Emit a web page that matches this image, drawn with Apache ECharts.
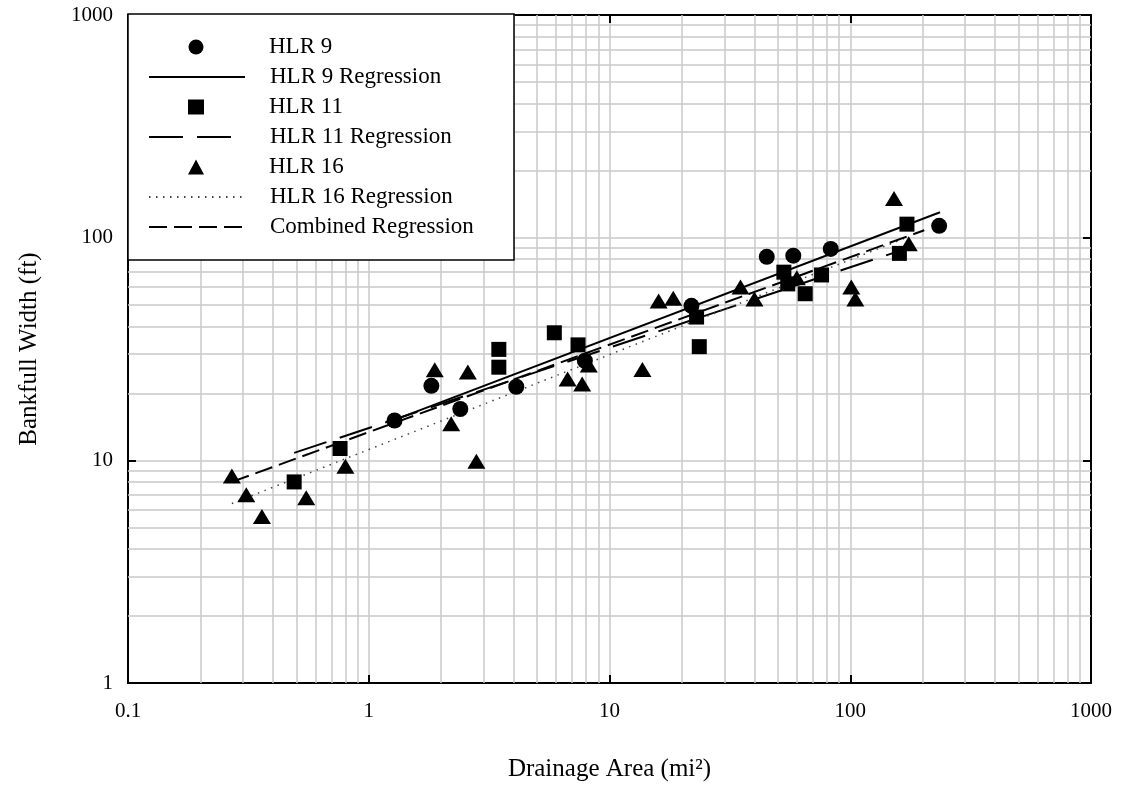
<!DOCTYPE html>
<html>
<head>
<meta charset="utf-8">
<script src="https://cdn.jsdelivr.net/npm/echarts@6/dist/echarts.min.js"></script>
<style>
  html, body { margin: 0; padding: 0; background: #fff; }
  #chart { width: 1123px; height: 796px; }
</style>
</head>
<body>
<div id="chart"></div>
<script>
// [drainage area (mi2), bankfull width (ft)]
const hlr9 = [[1.28, 15.1], [1.82, 21.6], [2.4, 17.0], [4.1, 21.4], [7.9, 28.0], [21.9, 49.4],
  [45, 82], [58, 83], [83, 89], [234, 113]];
const hlr11 = [[0.49, 8.0], [0.76, 11.3], [3.47, 31.5], [3.47, 26.2], [5.9, 37.4], [7.4, 33.0],
  [23, 44], [23.6, 32.4], [53, 70], [55, 62], [65, 56], [76, 68], [160, 85], [172, 115]];
const hlr16 = [[0.27, 8.5], [0.31, 7.0], [0.36, 5.6], [0.55, 6.8], [0.80, 9.4], [1.88, 25.5],
  [2.2, 14.6], [2.58, 24.9], [2.8, 9.9], [6.7, 23.2], [7.7, 22.0], [8.2, 26.8], [13.7, 25.6],
  [16, 52], [18.4, 53.4], [35, 60], [40, 53], [60, 66], [101, 60], [105, 53], [152, 150], [175, 94]];

// regression lines, end points only (straight on log-log)
const reg9 = [[1.28, 15.2], [236, 130]];
const reg11 = [[0.49, 10.8], [172, 89.5]];
const reg16 = [[0.27, 6.4], [175, 101]];
const regAll = [[0.27, 8.0], [203, 108]];

// minor grid values between the decades
const xMinor = [0.2, 0.3, 0.4, 0.5, 0.6, 0.7, 0.8, 0.9, 2, 3, 4, 5, 6, 7, 8, 9,
  20, 30, 40, 50, 60, 70, 80, 90, 200, 300, 400, 500, 600, 700, 800, 900];
const yMinor = [2, 3, 4, 5, 6, 7, 8, 9, 20, 30, 40, 50, 60, 70, 80, 90, 200, 300, 400, 500, 600, 700, 800, 900];

const pointNames = ['HLR 9', 'HLR 11', 'HLR 16'];
const regNames = ['HLR 9 Regression', 'HLR 11 Regression', 'HLR 16 Regression'];
const combinedName = 'Combined Regression';

const serif = '"Liberation Serif", "DejaVu Serif", serif';
const gridGray = '#c8c8c8';

const myChart = echarts.init(document.getElementById('chart'));

const plainNum = v => String(+Number(v).toPrecision(6));

const hiddenAxis = {
  type: 'log', logBase: 10,
  axisLine: { show: true, lineStyle: { color: '#000', width: 2 } },
  axisTick: { show: true, inside: true, length: 8, lineStyle: { color: '#000', width: 2 } },
  axisLabel: { show: false },
  splitLine: { show: false }
};

function regLine(name, data, lineStyle) {
  return {
    name: name,
    type: 'line',
    data: data,
    symbol: 'none',
    showSymbol: false,
    lineStyle: Object.assign({ color: '#000' }, lineStyle),
    // transparent so the legend shows the line only
    itemStyle: { color: 'rgba(0,0,0,0)' },
    z: 3,
    silent: true
  };
}

function pts(name, data, symbol, size) {
  return {
    name: name,
    type: 'scatter',
    data: data,
    symbol: symbol,
    symbolSize: size,
    itemStyle: { color: '#000', opacity: 1 },
    z: 4
  };
}

const legendText = { fontFamily: serif, fontSize: 23, color: '#000', lineHeight: 30 };

// three legends stacked into one box: markers, regressions, combined
const legends = [
  {
    left: 188, top: 32, itemWidth: 16, itemHeight: 15, itemGap: 30,
    data: pointNames,
    textStyle: Object.assign({ padding: [0, 0, 0, 60] }, legendText)
  },
  {
    left: 148, top: 62, itemWidth: 96, itemHeight: 15, itemGap: 30,
    data: regNames,
    textStyle: Object.assign({ padding: [0, 0, 0, 20] }, legendText)
  },
  {
    left: 148, top: 212, itemWidth: 96, itemHeight: 15, itemGap: 0,
    data: [combinedName],
    textStyle: Object.assign({ padding: [0, 0, 0, 20] }, legendText)
  }
].map(l => Object.assign({ orient: 'vertical', padding: 0, selectedMode: false, z: 10 }, l));

const option = {
  animation: false,
  backgroundColor: '#fff',
  grid: { left: 128, right: 32, top: 15, bottom: 113 },
  xAxis: [
    {
      type: 'log', logBase: 10, min: 0.1, max: 1000,
      name: 'Drainage Area (mi²)',
      nameLocation: 'middle',
      nameGap: 74,
      nameTextStyle: { fontFamily: serif, fontSize: 25, color: '#000' },
      axisLine: { show: true, lineStyle: { color: '#000', width: 2 } },
      axisTick: { show: true, inside: true, length: 8, lineStyle: { color: '#000', width: 2 } },
      axisLabel: { fontFamily: serif, fontSize: 21, color: '#000', margin: 18, formatter: plainNum },
      splitLine: { show: true, lineStyle: { color: gridGray, width: 1.5 } }
    },
    Object.assign({ position: 'top', min: 0.1, max: 1000 }, hiddenAxis)
  ],
  yAxis: [
    {
      type: 'log', logBase: 10, min: 1, max: 1000,
      name: 'Bankfull Width (ft)',
      nameLocation: 'middle',
      nameGap: 86,
      nameRotate: 90,
      nameTextStyle: { fontFamily: serif, fontSize: 25, color: '#000' },
      axisLine: { show: true, lineStyle: { color: '#000', width: 2 } },
      axisTick: { show: true, inside: true, length: 8, lineStyle: { color: '#000', width: 2 } },
      axisLabel: { fontFamily: serif, fontSize: 21, color: '#000', margin: 15, formatter: plainNum },
      splitLine: { show: true, lineStyle: { color: gridGray, width: 1.5 } }
    },
    Object.assign({ position: 'right', min: 1, max: 1000 }, hiddenAxis)
  ],
  legend: legends,
  graphic: [{
    type: 'rect',
    z: 8,
    shape: { x: 128, y: 14, width: 386, height: 246 },
    style: { fill: '#fff', stroke: '#000', lineWidth: 1.5 },
    silent: true
  }],
  series: [
    {
      name: 'minor grid',
      type: 'scatter',
      data: [],
      silent: true,
      z: 1,
      markLine: {
        silent: true,
        z: 1,
        symbol: ['none', 'none'],
        label: { show: false },
        animation: false,
        lineStyle: { color: gridGray, width: 1.5, type: 'solid' },
        data: xMinor.map(v => ({ xAxis: v })).concat(yMinor.map(v => ({ yAxis: v })))
      }
    },
    regLine('HLR 9 Regression', reg9, { width: 2, type: 'solid' }),
    regLine('HLR 11 Regression', reg11, { width: 2, type: [34, 14] }),
    regLine('HLR 16 Regression', reg16, { width: 1.5, type: [1.5, 5.5], color: '#444' }),
    regLine(combinedName, regAll, { width: 2, type: [18, 7] }),
    pts('HLR 9', hlr9, 'circle', 16),
    pts('HLR 11', hlr11, 'rect', 15),
    pts('HLR 16', hlr16, 'triangle', [18, 15])
  ]
};

myChart.setOption(option);
</script>
</body>
</html>
